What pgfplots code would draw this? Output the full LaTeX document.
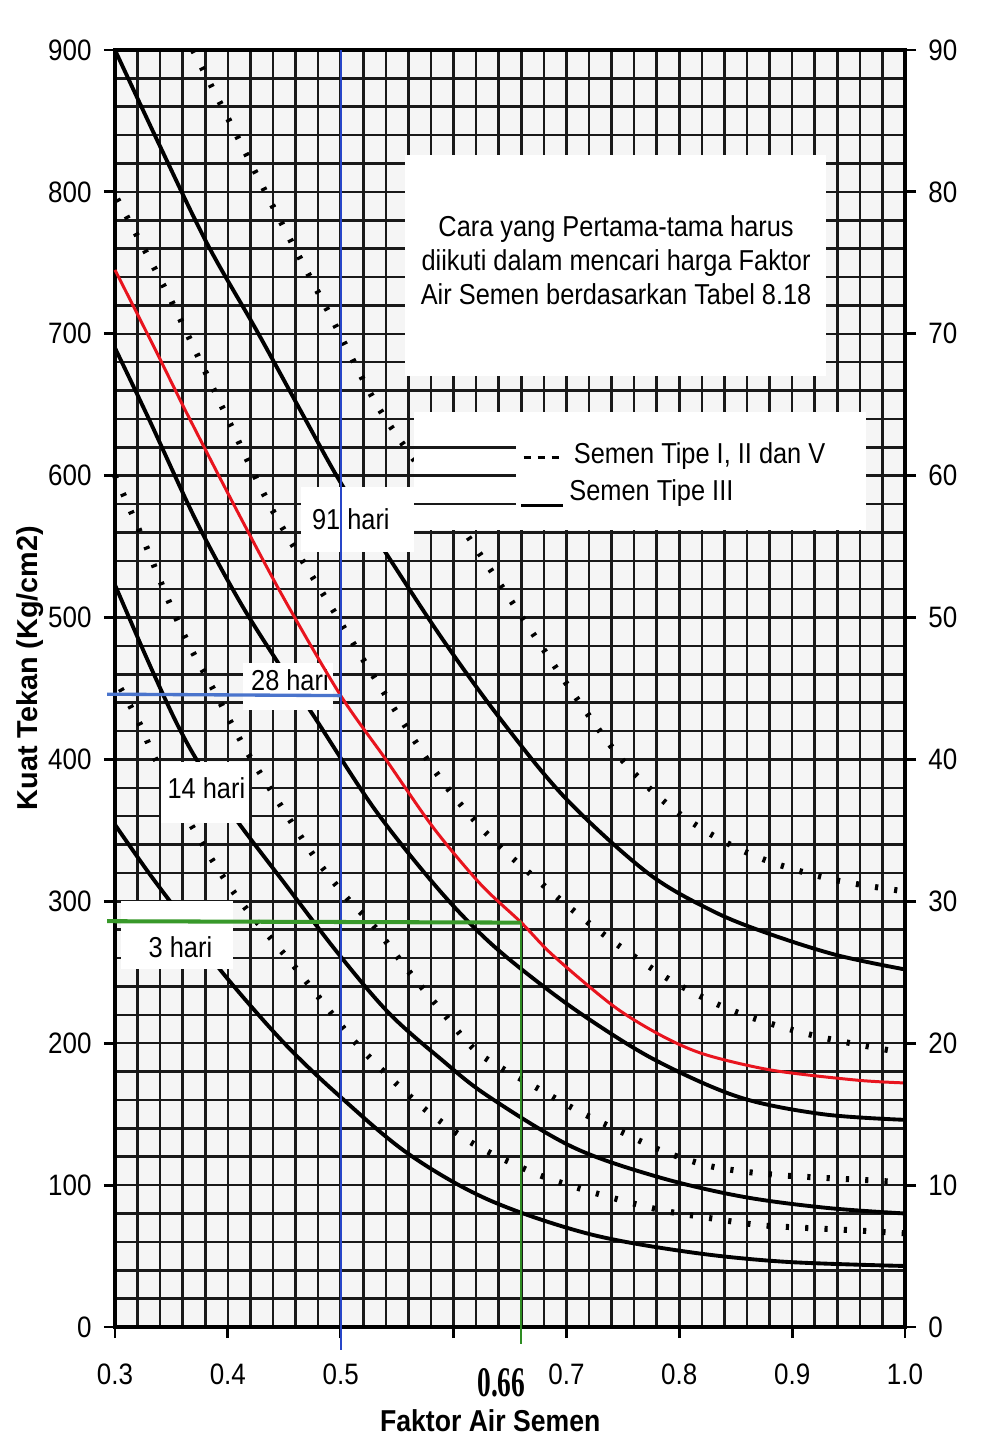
\documentclass[border=0pt]{standalone}
\usepackage{pgfplots}
\pgfplotsset{compat=1.18}
\usepackage{fontspec}
\setmainfont{Liberation Sans}
\newfontfamily\cond[FakeStretch=0.88]{Liberation Sans}
\newfontfamily\numserif[FakeStretch=0.65]{Liberation Serif}
\definecolor{redline}{HTML}{E8141E}
\definecolor{bluev}{HTML}{2846C8}
\definecolor{blueh}{HTML}{4A74CC}
\definecolor{greenh}{HTML}{38992A}
\definecolor{greenv}{HTML}{2E8C22}

\pgfplotsset{
  solidc/.style={black, line width=1.1pt, smooth, tension=0.55, no markers},
  dotc/.style={black, line width=1.7pt, smooth, tension=0.55, no markers,
    dash pattern=on 0.9pt off 4.6pt},
}

\begin{document}
\begin{tikzpicture}
\path[use as bounding box] (-11.5mm,-12mm) rectangle (86.6mm,132.7mm);

\begin{axis}[
  at={(0,0)}, anchor=south west,
  scale only axis, width=79mm, height=127.7mm,
  xmin=0.3, xmax=1.0, ymin=0, ymax=900,
  xtick={0.3,0.4,0.5,0.6,0.7,0.8,0.9,1.0},
  xticklabels={0.3,0.4,0.5,{},0.7,0.8,0.9,1.0},
  ytick={0,100,...,900},
  minor xtick={0.32,0.34,0.36,0.38,0.42,0.44,0.46,0.48,0.52,0.54,0.56,0.58,
    0.62,0.64,0.66,0.68,0.72,0.74,0.76,0.78,0.82,0.84,0.86,0.88,0.92,0.94,0.96,0.98},
  minor ytick={20,40,60,80,120,140,160,180,220,240,260,280,320,340,360,380,
    420,440,460,480,520,540,560,580,620,640,660,680,720,740,760,780,820,840,860,880},
  grid=both,
  major grid style={black!90, line width=0.72pt},
  minor grid style={black!90, line width=0.72pt},
  minor tick length=0pt, major tick length=1.1mm,
  tick align=outside, xtick pos=bottom, ytick pos=left,
  tick style={black, line width=0.8pt},
  axis line style={line width=1pt},
  axis background/.style={fill=black!4},
  clip=false,
  /pgf/number format/assume math mode=true,
  ticklabel style={font=\cond\fontsize{8.4}{10}\selectfont},
  xticklabel style={yshift=-1.3mm},
  xlabel={Faktor Air Semen},
  ylabel={Kuat Tekan (Kg/cm2)},
  xlabel style={font=\cond\bfseries\fontsize{8.6}{10}\selectfont,
    at={(axis description cs:0.475,-0.073)}, anchor=center},
  ylabel style={font=\bfseries\fontsize{8.2}{10}\selectfont,
    at={(axis description cs:-0.108,0.516)}, anchor=center},
]

% Semen Tipe III (solid)
\addplot[solidc] coordinates {(0.30,900) (0.34,832) (0.382,763) (0.425,703)
  (0.465,645) (0.50,595) (0.538,548) (0.59,485) (0.642,428) (0.70,372)
  (0.772,320) (0.83,293) (0.88,277) (0.94,262) (1.0,252)};
\addplot[solidc] coordinates {(0.30,690) (0.33,640) (0.372,568) (0.41,512)
  (0.443,470) (0.475,432) (0.53,365) (0.585,310) (0.628,274) (0.67,246)
  (0.718,218) (0.779,188) (0.853,162) (0.927,150) (1.0,146)};
\addplot[solidc] coordinates {(0.30,523) (0.33,468) (0.355,425) (0.376,395)
  (0.407,358) (0.449,314) (0.497,264) (0.543,221) (0.59,188) (0.63,163)
  (0.705,127) (0.78,106) (0.855,92) (0.93,84) (1.0,80)};
\addplot[solidc] coordinates {(0.30,354) (0.33,320) (0.362,286) (0.395,250)
  (0.45,200) (0.50,162) (0.56,122) (0.63,90) (0.718,66) (0.807,53)
  (0.893,46) (1.0,43)};

% Semen Tipe I, II dan V (dotted)
\addplot[dotc] coordinates {(0.369,900) (0.40,852) (0.443,785) (0.49,714)
  (0.532,650) (0.575,600) (0.606,565) (0.64,525) (0.676,482) (0.71,442)
  (0.749,400) (0.79,368) (0.833,345) (0.88,328) (0.938,315) (1.0,307)};
\addplot[dotc] coordinates {(0.302,795) (0.343,734) (0.37,690) (0.40,640)
  (0.44,575) (0.495,503) (0.532,455) (0.587,388) (0.629,348) (0.67,318)
  (0.71,291) (0.746,269) (0.791,245) (0.835,227) (0.876,215) (0.927,204)
  (1.0,193)};
\addplot[dotc] coordinates {(0.30,600) (0.325,555) (0.349,509) (0.368,477)
  (0.384,454) (0.402,427) (0.418,404) (0.448,366) (0.478,330) (0.506,302)
  (0.53,282) (0.558,253) (0.588,224) (0.613,200) (0.631,188) (0.675,168)
  (0.711,152) (0.75,137) (0.785,124) (0.824,114) (0.853,110) (0.889,107)
  (0.931,105) (1.0,102)};
\addplot[dotc] coordinates {(0.305,450) (0.322,425) (0.336,400) (0.366,356)
  (0.387,328) (0.402,310) (0.417,294) (0.439,273) (0.457,256) (0.475,238)
  (0.493,220) (0.517,197) (0.55,171) (0.58,150) (0.62,128) (0.67,109)
  (0.706,99) (0.75,89) (0.786,82) (0.825,77) (0.869,72) (0.908,70)
  (0.958,68) (1.0,66)};

% white areas of the chart
\fill[white] (axis cs:0.557,670) rectangle (axis cs:0.93,826);
\fill[white] (axis cs:0.655,562) rectangle (axis cs:0.965,645);
\fill[white] (axis cs:0.565,562) rectangle (axis cs:0.655,645);
\draw[black!90, line width=0.72pt] (axis cs:0.565,580) -- (axis cs:0.655,580);
\draw[black!90, line width=0.72pt] (axis cs:0.565,600) -- (axis cs:0.655,600);
\draw[black!90, line width=0.72pt] (axis cs:0.565,620) -- (axis cs:0.655,620);
\fill[white] (axis cs:0.465,546) rectangle (axis cs:0.565,592);
\fill[white] (axis cs:0.413,435) rectangle (axis cs:0.493,468);
\fill[white] (axis cs:0.341,355) rectangle (axis cs:0.419,398);
\fill[white] (axis cs:0.305,252) rectangle (axis cs:0.405,300);

% texts
\node[font=\cond\fontsize{8.2}{9.6}\selectfont, align=center] at (axis cs:0.744,752)
  {Cara yang Pertama-tama harus\\diikuti dalam mencari harga Faktor\\Air Semen berdasarkan Tabel 8.18};
\draw[black, line width=0.9pt, dash pattern=on 2pt off 2pt] (axis cs:0.662,613) -- (axis cs:0.697,613);
\node[font=\cond\fontsize{8.2}{9.6}\selectfont, anchor=west, inner sep=0pt] at (axis cs:0.706,614) {Semen Tipe I, II dan V};
\draw[black, line width=0.9pt] (axis cs:0.660,579) -- (axis cs:0.697,579);
\node[font=\cond\fontsize{8.2}{9.6}\selectfont, anchor=west, inner sep=0pt] at (axis cs:0.702,588) {Semen Tipe III};

\node[font=\cond\fontsize{8.2}{9.6}\selectfont] at (axis cs:0.509,569) {91 hari};
\node[font=\cond\fontsize{8.2}{9.6}\selectfont] at (axis cs:0.455,456) {28 hari};
\node[font=\cond\fontsize{8.2}{9.6}\selectfont] at (axis cs:0.381,380) {14 hari};
\node[font=\cond\fontsize{8.2}{9.6}\selectfont] at (axis cs:0.358,268) {3 hari};

% design curve and reading lines
\addplot[redline, line width=0.85pt, smooth, tension=0.5, no markers] coordinates {
  (0.30,745) (0.335,690) (0.363,645) (0.407,577) (0.45,513) (0.50,445)
  (0.54,400) (0.582,352) (0.624,312) (0.66,285) (0.688,262) (0.742,226)
  (0.785,205) (0.823,192) (0.882,181) (0.957,174) (1.0,172)};
\addplot[bluev, line width=0.5pt, no markers] coordinates {(0.5,-16) (0.5,900)};
\addplot[blueh, line width=0.95pt, no markers] coordinates {(0.293,446) (0.5,445)};
\addplot[greenh, line width=1.15pt, no markers] coordinates {(0.293,286) (0.66,285)};
\addplot[greenv, line width=0.6pt, no markers] coordinates {(0.66,285) (0.66,-12)};

\node[font=\numserif\bfseries\fontsize{12}{14}\selectfont] at (axis description cs:0.489,-0.044) {0.66};
\end{axis}

\begin{axis}[
  at={(0,0)}, anchor=south west,
  scale only axis, width=79mm, height=127.7mm,
  xmin=0.3, xmax=1.0, ymin=0, ymax=90,
  axis x line=none, axis y line*=right,
  ytick={0,10,...,90},
  tick align=outside, major tick length=1.1mm,
  tick style={black, line width=0.8pt},
  axis line style={line width=1pt},
  /pgf/number format/assume math mode=true,
  ticklabel style={font=\cond\fontsize{8.4}{10}\selectfont},
]
\addplot[draw=none] coordinates {(0.3,0) (1.0,90)};
\end{axis}
\end{tikzpicture}
\end{document}
